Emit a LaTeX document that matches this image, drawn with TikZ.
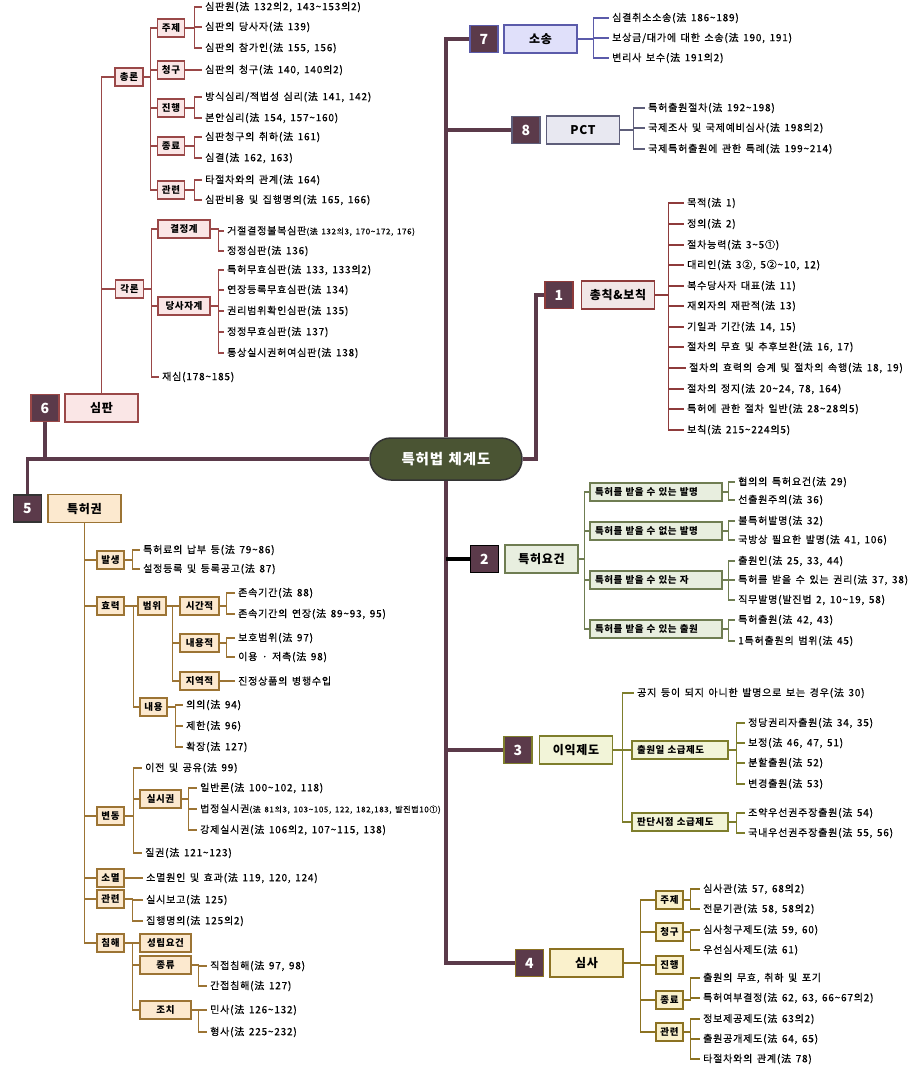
\documentclass[tikz,border=0pt]{standalone}
\usepackage{fontspec}
\setmainfont{Noto Sans CJK KR}
\newfontfamily\krls[LetterSpace=6,WordSpace=1.3]{Noto Sans CJK KR}
\newfontfamily\krlf[LetterSpace=8,WordSpace=1.5,FakeBold=0.5]{Noto Sans CJK KR}
\newcommand\myleaf{\krlf\fontsize{10}{12}\selectfont}
\newcommand\mysmall{\krlf\fontsize{8}{10}\selectfont}
\definecolor{trunkc}{HTML}{5B3A4A}
\definecolor{pillf}{HTML}{4A5433}
\definecolor{c1l}{HTML}{8E3B3B}\definecolor{c1f}{HTML}{F1E6E6}
\definecolor{c2l}{HTML}{6F7D52}\definecolor{c2f}{HTML}{E8EEDF}
\definecolor{c3l}{HTML}{7E7E2C}\definecolor{c3f}{HTML}{F2F4D8}
\definecolor{c4l}{HTML}{8C7222}\definecolor{c4f}{HTML}{FAF1CC}
\definecolor{c5l}{HTML}{9C7434}\definecolor{c5f}{HTML}{FCE9CF}
\definecolor{c6l}{HTML}{9A4848}\definecolor{c6f}{HTML}{FAE6E6}
\definecolor{c7l}{HTML}{5B5BAA}\definecolor{c7f}{HTML}{E0E0FA}
\definecolor{c8l}{HTML}{5E5E7A}\definecolor{c8f}{HTML}{E8E8F1}
\tikzset{
 lf/.style={anchor=west, inner xsep=3pt, inner ysep=1pt, xshift=-3pt, font=\myleaf, text=black},
 sbox/.style={draw, line width=1.3pt, inner sep=0pt, minimum height=18pt, minimum width=27pt, font=\bfseries\krls\fontsize{9.5}{11}\selectfont},
 wbox/.style={sbox, align=left, inner xsep=5pt, text width=#1},
 lbl/.style={draw, line width=1.3pt, inner sep=0pt, minimum width=73pt, minimum height=28pt, font=\bfseries\krls\fontsize{12}{14}\selectfont},
 num/.style={fill=trunkc, line width=1.3pt, text=white, minimum width=28pt, minimum height=27pt, inner sep=0pt, font=\bfseries\fontsize{14}{14}\selectfont},
 trunk/.style={draw=trunkc, line width=3.5pt},
 trunkb/.style={draw=black, line width=4.5pt},
 pill/.style={fill=pillf, draw=black!80, line width=1.5pt, rounded corners=21pt, minimum width=152pt, minimum height=42pt, text=white, font=\bfseries\krls\fontsize{14.5}{16}\selectfont},
 l1/.style={draw=c1l, line width=1.2pt}, l2/.style={draw=c2l, line width=1.2pt},
 l3/.style={draw=c3l, line width=1.2pt}, l4/.style={draw=c4l, line width=1.2pt},
 l5/.style={draw=c5l, line width=1.2pt}, l6/.style={draw=c6l, line width=1.2pt},
 l7/.style={draw=c7l, line width=1.2pt}, l8/.style={draw=c8l, line width=1.2pt},
 s4/.style={sbox, draw=c4l, fill=c4f}, s5/.style={sbox, draw=c5l, fill=c5f}, s6/.style={sbox, draw=c6l, fill=c6f}
}
\begin{document}
\begin{tikzpicture}[x=1pt,y=-1pt]
\fill[white] (0,0) rectangle (922,1066);
\useasboundingbox (0,0) rectangle (922,1066);

% ---------- centre
\node[pill] (root) at (446,459) {특허법 체계도};

% ---------- 7 소송
\node[num, draw=c7l] (n7) at (484,39) {7};
\node[lbl, draw=c7l, fill=c7f] (b7) at (540.5,39) {소송};
\node[lf] (s7a) at (612,18) {심결취소소송(法 186\textasciitilde189)};
\node[lf] (s7b) at (612,38) {보상금/대가에 대한 소송(法 190, 191)};
\node[lf] (s7c) at (612,58) {변리사 보수(法 191의2)};
\foreach \c in {s7a,s7b,s7c} \draw[l7] (b7.east) -- ++(16,0) |- (\c.west);

% ---------- 8 PCT
\node[num, draw=c8l] (n8) at (526,130) {8};
\node[lbl, draw=c8l, fill=c8f] (b8) at (583,130) {PCT};
\node[lf] (s8a) at (648,108) {특허출원절차(法 192\textasciitilde198)};
\node[lf] (s8b) at (648,128) {국제조사 및 국제예비심사(法 198의2)};
\node[lf] (s8c) at (648,149) {국제특허출원에 관한 특례(法 199\textasciitilde214)};
\foreach \c in {s8a,s8b,s8c} \draw[l8] (b8.east) -- ++(13,0) |- (\c.west);

% ---------- 1 총칙&보칙
\node[num, draw=c1l] (n1) at (559,295) {1};
\node[lbl, draw=c1l, fill=c1f] (b1) at (618,295) {총칙\&보칙};
\node[lf] (s1a) at (687,203) {목적(法 1)};
\node[lf] (s1b) at (687,224) {정의(法 2)};
\node[lf] (s1c) at (687,245) {절차능력(法 3\textasciitilde5①)};
\node[lf] (s1d) at (687,265) {대리인(法 3②, 5②\textasciitilde10, 12)};
\node[lf] (s1e) at (687,286) {복수당사자 대표(法 11)};
\node[lf] (s1f) at (687,306) {재외자의 재판적(法 13)};
\node[lf] (s1g) at (687,327) {기일과 기간(法 14, 15)};
\node[lf] (s1h) at (687,347) {절차의 무효 및 추후보완(法 16, 17)};
\node[lf] (s1i) at (689,368) {절차의 효력의 승계 및 절차의 속행(法 18, 19)};
\node[lf] (s1j) at (687,389) {절차의 정지(法 20\textasciitilde24, 78, 164)};
\node[lf] (s1k) at (687,409) {특허에 관한 절차 일반(法 28\textasciitilde28의5)};
\node[lf] (s1l) at (687,430) {보칙(法 215\textasciitilde224의5)};
\foreach \c in {s1a,s1b,s1c,s1d,s1e,s1f,s1g,s1h,s1i,s1j,s1k,s1l} \draw[l1] (b1.east) -- ++(13,0) |- (\c.west);

% ---------- 2 특허요건
\node[num, draw=black] (n2) at (484.5,559) {2};
\node[lbl, draw=c2l, fill=c2f] (b2) at (541.5,559) {특허요건};
\node[wbox=122pt, draw=c2l, fill=c2f] (g1) at (656,492) {특허를 받을 수 있는 발명};
\node[wbox=122pt, draw=c2l, fill=c2f] (g2) at (656,531) {특허를 받을 수 없는 발명};
\node[wbox=122pt, draw=c2l, fill=c2f] (g3) at (656,580) {특허를 받을 수 있는 자};
\node[wbox=122pt, draw=c2l, fill=c2f] (g4) at (656,629) {특허를 받을 수 있는 출원};
\foreach \c in {g1,g2,g3,g4} \draw[l2] (b2.east) -- ++(6,0) |- (\c.west);
\node[lf] (g1a) at (738,482) {협의의 특허요건(法 29)};
\node[lf] (g1b) at (738,500) {선출원주의(法 36)};
\node[lf] (g2a) at (738,521) {불특허발명(法 32)};
\node[lf] (g2b) at (738,540) {국방상 필요한 발명(法 41, 106)};
\node[lf] (g3a) at (738,561) {출원인(法 25, 33, 44)};
\node[lf] (g3b) at (738,580) {특허를 받을 수 있는 권리(法 37, 38)};
\node[lf] (g3c) at (738,600) {직무발명(발진법 2, 10\textasciitilde19, 58)};
\node[lf] (g4a) at (738,620) {특허출원(法 42, 43)};
\node[lf] (g4b) at (738,641) {1특허출원의 범위(法 45)};
\foreach \c in {g1a,g1b} \draw[l2] (g1.east) -- ++(6,0) |- (\c.west);
\foreach \c in {g2a,g2b} \draw[l2] (g2.east) -- ++(6,0) |- (\c.west);
\foreach \c in {g3a,g3b,g3c} \draw[l2] (g3.east) -- ++(6,0) |- (\c.west);
\foreach \c in {g4a,g4b} \draw[l2] (g4.east) -- ++(6,0) |- (\c.west);

% ---------- 3 이익제도
\node[num, draw=c3l] (n3) at (518,750) {3};
\node[lbl, draw=c3l, fill=c3f] (b3) at (576,750) {이익제도};
\node[lf] (h0) at (637,693) {공지 등이 되지 아니한 발명으로 보는 경우(法 30)};
\node[wbox=86pt, draw=c3l, fill=c3f] (h1) at (680,750) {출원일 소급제도};
\node[wbox=86pt, draw=c3l, fill=c3f] (h2) at (680,822) {판단시점 소급제도};
\foreach \c in {h0,h1,h2} \draw[l3] (b3.east) -- ++(9,0) |- (\c.west);
\node[lf] (h1a) at (748,723) {정당권리자출원(法 34, 35)};
\node[lf] (h1b) at (748,743) {보정(法 46, 47, 51)};
\node[lf] (h1c) at (748,763) {분할출원(法 52)};
\node[lf] (h1d) at (748,784) {변경출원(法 53)};
\node[lf] (h2a) at (748,813) {조약우선권주장출원(法 54)};
\node[lf] (h2b) at (748,833) {국내우선권주장출원(法 55, 56)};
\foreach \c in {h1a,h1b,h1c,h1d} \draw[l3] (h1.east) -- ++(8,0) |- (\c.west);
\foreach \c in {h2a,h2b} \draw[l3] (h2.east) -- ++(8,0) |- (\c.west);

% ---------- 4 심사
\node[num, draw=c4l] (n4) at (529.5,963) {4};
\node[lbl, draw=c4l, fill=c4f] (b4) at (586.5,963) {심사};
\node[s4] (k1) at (669.5,900) {주제};
\node[s4] (k2) at (669.5,932) {청구};
\node[s4] (k3) at (669.5,965) {진행};
\node[s4] (k4) at (669.5,1000) {종료};
\node[s4] (k5) at (669.5,1032) {관련};
\foreach \c in {k1,k2,k3,k4,k5} \draw[l4] (b4.east) -- ++(17,0) |- (\c.west);
\node[lf] (k1a) at (703,889) {심사관(法 57, 68의2)};
\node[lf] (k1b) at (703,909) {전문기관(法 58, 58의2)};
\node[lf] (k2a) at (703,930) {심사청구제도(法 59, 60)};
\node[lf] (k2b) at (703,950) {우선심사제도(法 61)};
\node[lf] (k4a) at (703,978) {출원의 무효, 취하 및 포기};
\node[lf] (k4b) at (703,998) {특허여부결정(法 62, 63, 66\textasciitilde67의2)};
\node[lf] (k5a) at (703,1019) {정보제공제도(法 63의2)};
\node[lf] (k5b) at (703,1039) {출원공개제도(法 64, 65)};
\node[lf] (k5c) at (703,1059) {타절차와의 관계(法 78)};
\foreach \c in {k1a,k1b} \draw[l4] (k1.east) -- ++(7,0) |- (\c.west);
\foreach \c in {k2a,k2b} \draw[l4] (k2.east) -- ++(7,0) |- (\c.west);
\foreach \c in {k4a,k4b} \draw[l4] (k4.east) -- ++(7,0) |- (\c.west);
\foreach \c in {k5a,k5b,k5c} \draw[l4] (k5.east) -- ++(7,0) |- (\c.west);

% ---------- 6 심판
\node[num, draw=c6l] (n6) at (45,408) {6};
\node[lbl, draw=c6l, fill=c6f] (b6) at (101.5,408) {심판};
\node[s6, minimum width=28pt] (jong) at (129,77) {총론};
\node[s6, minimum width=28pt] (gak) at (129.5,289) {각론};
\draw[l6] (b6.north) |- (jong.west);
\draw[l6] (b6.north) |- (gak.west);
\node[s6] (j1) at (171,28) {주제};
\node[s6] (j2) at (171,70) {청구};
\node[s6] (j3) at (171,108) {진행};
\node[s6] (j4) at (171,146) {종료};
\node[s6] (j5) at (171,190) {관련};
\foreach \c in {j1,j2,j3,j4,j5} \draw[l6] (jong.east) -- ++(7,0) |- (\c.west);
\node[lf] (j1a) at (205,7) {심판원(法 132의2, 143\textasciitilde153의2)};
\node[lf] (j1b) at (205,27) {심판의 당사자(法 139)};
\node[lf] (j1c) at (205,48) {심판의 참가인(法 155, 156)};
\node[lf] (j2a) at (205,70) {심판의 청구(法 140, 140의2)};
\node[lf] (j3a) at (205,97) {방식심리/적법성 심리(法 141, 142)};
\node[lf] (j3b) at (205,118) {본안심리(法 154, 157\textasciitilde160)};
\node[lf] (j4a) at (205,137) {심판청구의 취하(法 161)};
\node[lf] (j4b) at (205,158) {심결(法 162, 163)};
\node[lf] (j5a) at (205,180) {타절차와의 관계(法 164)};
\node[lf] (j5b) at (205,200) {심판비용 및 집행명의(法 165, 166)};
\foreach \c in {j1a,j1b,j1c} \draw[l6] (j1.east) -- ++(9,0) |- (\c.west);
\draw[l6] (j2.east) -- (j2a.west);
\foreach \c in {j3a,j3b} \draw[l6] (j3.east) -- ++(9,0) |- (\c.west);
\foreach \c in {j4a,j4b} \draw[l6] (j4.east) -- ++(9,0) |- (\c.west);
\foreach \c in {j5a,j5b} \draw[l6] (j5.east) -- ++(9,0) |- (\c.west);
\node[s6, minimum width=52pt] (a1) at (184,229) {결정계};
\node[s6, minimum width=52pt] (a2) at (184,306) {당사자계};
\node[lf] (a3) at (162,377) {재심(178\textasciitilde185)};
\foreach \c in {a1,a2,a3} \draw[l6] (gak.east) -- ++(7,0) |- (\c.west);
\node[lf] (a1a) at (227,231) {거절결정불복심판{\mysmall(法 132의3, 170\textasciitilde172, 176)}};
\node[lf] (a1b) at (227,251) {정정심판(法 136)};
\node[lf] (a2a) at (227,270) {특허무효심판(法 133, 133의2)};
\node[lf] (a2b) at (227,290) {연장등록무효심판(法 134)};
\node[lf] (a2c) at (227,311) {권리범위확인심판(法 135)};
\node[lf] (a2d) at (227,332) {정정무효심판(法 137)};
\node[lf] (a2e) at (227,353) {통상실시권허여심판(法 138)};
\foreach \c in {a1a,a1b} \draw[l6] (a1.east) -- ++(8,0) |- (\c.west);
\foreach \c in {a2a,a2b,a2c,a2d,a2e} \draw[l6] (a2.east) -- ++(8,0) |- (\c.west);

% ---------- 5 특허권
\node[num, draw=black!80] (n5) at (27.5,508.5) {5};
\node[lbl, draw=c5l, fill=c5f] (b5) at (84.5,508.5) {특허권};
\node[s5] (p1) at (110.5,560) {발생};
\node[s5] (p2) at (110.5,606) {효력};
\node[s5] (p3) at (110.5,816) {변동};
\node[s5] (p4) at (110.5,878) {소멸};
\node[s5] (p5) at (110.5,899) {관련};
\node[s5] (p6) at (110.5,943) {침해};
\foreach \c in {p1,p2,p3,p4,p5,p6} \draw[l5] (b5.south) |- (\c.west);
% 발생
\node[lf] (p1a) at (143,550) {특허료의 납부 등(法 79\textasciitilde86)};
\node[lf] (p1b) at (143,569) {설정등록 및 등록공고(法 87)};
\foreach \c in {p1a,p1b} \draw[l5] (p1.east) -- ++(8,0) |- (\c.west);
% 효력
\node[s5, minimum width=28pt] (q1) at (152,606) {범위};
\node[s5] (q2) at (153.5,707) {내용};
\draw[l5] (p2.east) -- (q1.west);
\draw[l5] (p2.east) -- ++(9,0) |- (q2.west);
\node[s5, minimum width=39pt] (r1) at (199.5,606) {시간적};
\node[s5, minimum width=39pt] (r2) at (199.5,643) {내용적};
\node[s5, minimum width=39pt] (r3) at (199.5,681) {지역적};
\foreach \c in {r1,r2,r3} \draw[l5] (q1.east) -- ++(6,0) |- (\c.west);
\node[lf] (r1a) at (238,593) {존속기간(法 88)};
\node[lf] (r1b) at (238,614) {존속기간의 연장(法 89\textasciitilde93, 95)};
\node[lf] (r2a) at (238,638) {보호범위(法 97)};
\node[lf] (r2b) at (238,657) {이용 · 저촉(法 98)};
\node[lf] (r3a) at (238,681) {진정상품의 병행수입};
\foreach \c in {r1a,r1b} \draw[l5] (r1.east) -- ++(7,0) |- (\c.west);
\foreach \c in {r2a,r2b} \draw[l5] (r2.east) -- ++(7,0) |- (\c.west);
\draw[l5] (r3.east) -- (r3a.west);
\node[lf] (q2a) at (186,705) {의의(法 94)};
\node[lf] (q2b) at (186,726) {제한(法 96)};
\node[lf] (q2c) at (186,747) {확장(法 127)};
\foreach \c in {q2a,q2b,q2c} \draw[l5] (q2.east) -- ++(8,0) |- (\c.west);
% 변동
\node[lf] (v1) at (145,768) {이전 및 공유(法 99)};
\node[s5, minimum width=41pt] (v2) at (160.5,799) {실시권};
\node[lf] (v3) at (145,853) {질권(法 121\textasciitilde123)};
\foreach \c in {v1,v2,v3} \draw[l5] (p3.east) -- ++(9,0) |- (\c.west);
\node[lf] (v2a) at (200,788) {일반론(法 100\textasciitilde102, 118)};
\node[lf] (v2b) at (200,809) {법정실시권{\mysmall(法 81의3, 103\textasciitilde105, 122, 182,183, 발진법10①)}};
\node[lf] (v2c) at (200,830) {강제실시권(法 106의2, 107\textasciitilde115, 138)};
\foreach \c in {v2a,v2b,v2c} \draw[l5] (v2.east) -- ++(7,0) |- (\c.west);
% 소멸, 관련
\node[lf] (p4a) at (146,878) {소멸원인 및 효과(法 119, 120, 124)};
\draw[l5] (p4.east) -- (p4a.west);
\node[lf] (p5a) at (146,900) {실시보고(法 125)};
\node[lf] (p5b) at (146,921) {집행명의(法 125의2)};
\foreach \c in {p5a,p5b} \draw[l5] (p5.east) -- ++(8,0) |- (\c.west);
% 침해
\node[s5, minimum width=51pt] (w1) at (165.5,943) {성립요건};
\node[s5, minimum width=51pt] (w2) at (165.5,965) {종류};
\node[s5, minimum width=51pt] (w3) at (165.5,1010) {조치};
\foreach \c in {w1,w2,w3} \draw[l5] (p6.east) -- ++(8,0) |- (\c.west);
\node[lf] (w2a) at (210,966) {직접침해(法 97, 98)};
\node[lf] (w2b) at (210,986) {간접침해(法 127)};
\node[lf] (w3a) at (210,1010) {민사(法 126\textasciitilde132)};
\node[lf] (w3b) at (210,1032) {형사(法 225\textasciitilde232)};
\foreach \c in {w2a,w2b} \draw[l5] (w2.east) -- ++(7,0) |- (\c.west);
\foreach \c in {w3a,w3b} \draw[l5] (w3.east) -- ++(7,0) |- (\c.west);

% ---------- trunk
\draw[trunk] (root.north) |- (n7.west);
\draw[trunk] (root.north) |- (n8.west);
\draw[trunk] (root.south) |- (n3.west);
\draw[trunk] (root.south) |- (n4.west);
\draw[trunkb] (root.south |- n2.west) -- (n2.west);
\draw[trunk] (root.east) -- ++(13,0) |- (n1.west);
\draw[trunk] (root.west) -| (n5.north);
\draw[trunk] (n6.south) -- (n6.south |- root.west);
\end{tikzpicture}
\end{document}
